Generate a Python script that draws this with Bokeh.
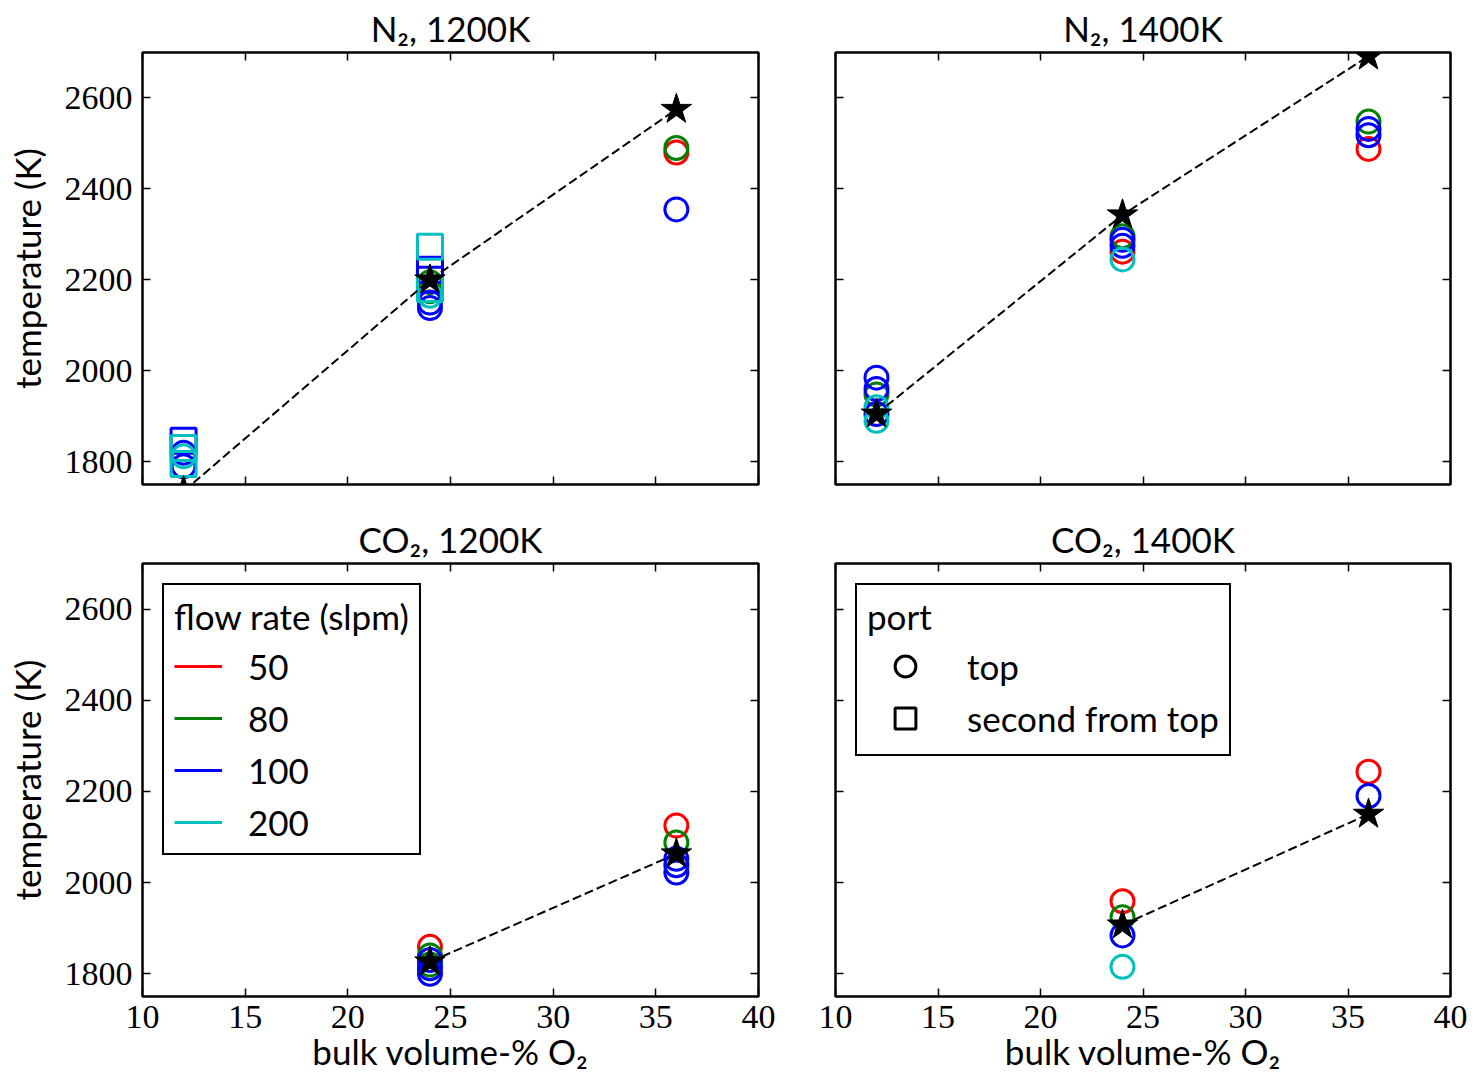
import numpy as np
from bokeh.plotting import figure
from bokeh.layouts import column, row
from bokeh.models import LinearAxis, FixedTicker, Range1d, Legend, LegendItem
from bokeh.embed import file_html
from bokeh.resources import INLINE

# ---------------- data ----------------
flow_rates = [50, 80, 100, 200]
flow_colors = ["#ff0000", "#008000", "#0000ff", "#00bfbf"]
port_names = ["top", "second from top"]
port_markers = ["circle", "square"]
x_ticks = [10, 15, 20, 25, 30, 35, 40]
y_ticks = [1800, 2000, 2200, 2400, 2600]
x_limits = (10, 40)
y_limits = (1750, 2700)
panel_titles = ["N₂, 1200K", "N₂, 1400K", "CO₂, 1200K", "CO₂, 1400K"]
x_label = "bulk volume-% O₂"
y_label = "temperature (K)"

# N2, 1200K
n2_1200_eq_o2 = [12, 24, 36]
n2_1200_eq_T = [1735, 2200, 2575]
n2_1200_o2 = [12, 12, 12, 12, 12, 12,
              24, 24, 24, 24, 24, 24, 24, 24, 24,
              36, 36, 36]
n2_1200_T = [1846, 1830, 1795, 1820, 1812, 1790,
             2273, 2222, 2200, 2180, 2195, 2175, 2165, 2150, 2138,
             2480, 2490, 2355]
n2_1200_flow = [100, 200, 200, 100, 200, 100,
                200, 100, 100, 200, 80, 80, 200, 100, 100,
                50, 80, 100]
n2_1200_port = ["second from top", "second from top", "second from top", "top", "top", "top",
                "second from top", "second from top", "second from top", "second from top", "top", "top", "top", "top", "top",
                "top", "top", "top"]

# N2, 1400K
n2_1400_eq_o2 = [12, 24, 36]
n2_1400_eq_T = [1905, 2343, 2692]
n2_1400_o2 = [12, 12, 12, 12, 12, 12,
              24, 24, 24, 24, 24,
              36, 36, 36, 36]
n2_1400_T = [1985, 1960, 1905, 1948, 1920, 1890,
             2262, 2296, 2288, 2275, 2245,
             2488, 2548, 2532, 2518]
n2_1400_flow = [100, 100, 100, 80, 200, 200,
                50, 80, 100, 100, 200,
                50, 80, 100, 100]
n2_1400_port = ["top"] * 15

# CO2, 1200K
co2_1200_eq_o2 = [24, 36]
co2_1200_eq_T = [1826, 2063]
co2_1200_o2 = [24, 24, 24, 24, 24, 24,
               36, 36, 36, 36, 36]
co2_1200_T = [1859, 1840, 1820, 1830, 1812, 1800,
              2125, 2088, 2052, 2038, 2022]
co2_1200_flow = [50, 80, 80, 100, 100, 100,
                 50, 80, 100, 100, 100]
co2_1200_port = ["top"] * 11

# CO2, 1400K
co2_1400_eq_o2 = [24, 36]
co2_1400_eq_T = [1907, 2150]
co2_1400_o2 = [24, 24, 24, 24, 36, 36]
co2_1400_T = [1959, 1924, 1884, 1815, 2243, 2190]
co2_1400_flow = [50, 80, 100, 200, 50, 100]
co2_1400_port = ["top"] * 6

TICK_FONT = "Liberation Serif"
TEXT_FONT = "Lato"
TEXT_SIZE = "35px"


def style_axis(ax, ticks, show_labels, label=None, horizontal=True):
    ax.ticker = FixedTicker(ticks=ticks)
    ax.major_tick_in = 8
    ax.major_tick_out = 0
    ax.minor_tick_line_color = None
    ax.axis_line_color = None
    ax.major_tick_line_color = "black"
    ax.major_tick_line_width = 1.5
    if show_labels:
        ax.major_label_text_font = TICK_FONT
        ax.major_label_text_font_size = "34px"
        ax.major_label_text_color = "black"
        ax.major_label_standoff = 9 if horizontal else 10
    else:
        ax.major_label_overrides = {t: "" for t in ticks}
        ax.major_label_text_font_size = "0px"
        ax.major_label_standoff = 0
    if label is not None:
        ax.axis_label = label
        ax.axis_label_text_font = TEXT_FONT
        ax.axis_label_text_font_size = TEXT_SIZE
        ax.axis_label_text_font_style = "normal"
        ax.axis_label_text_color = "black"
        ax.axis_label_standoff = -1 if horizontal else 14


def make_panel(title, eq_x, eq_y, xs, ys, flows, ports, left_col, bottom_row):
    bl = 142 if left_col else 39
    br = 38 if left_col else 25
    bt = 52 if not bottom_row else 58
    bb = 21 if not bottom_row else 84
    fw = 616 if left_col else 615
    fh = 432 if not bottom_row else 433
    p = figure(width=bl + fw + br, height=bt + fh + bb,
               x_range=Range1d(*x_limits), y_range=Range1d(*y_limits),
               output_backend="svg", toolbar_location=None,
               min_border_left=bl, min_border_right=br,
               min_border_top=bt, min_border_bottom=bb,
               x_axis_type=None, y_axis_type=None)
    p.grid.visible = False
    p.outline_line_color = "black"
    p.outline_line_width = 2.5
    p.background_fill_color = "white"
    p.border_fill_color = "white"

    p.title.text = title
    p.title.align = "center"
    p.title.text_font = TEXT_FONT
    p.title.text_font_size = TEXT_SIZE
    p.title.text_font_style = "normal"
    p.title.text_color = "black"
    p.title.standoff = 7

    xb = LinearAxis()
    style_axis(xb, x_ticks, bottom_row, x_label if bottom_row else None, True)
    p.add_layout(xb, "below")
    xt = LinearAxis()
    style_axis(xt, x_ticks, False)
    p.add_layout(xt, "above")
    yl = LinearAxis()
    style_axis(yl, y_ticks, left_col, y_label if left_col else None, False)
    p.add_layout(yl, "left")
    yr = LinearAxis()
    style_axis(yr, y_ticks, False)
    p.add_layout(yr, "right")

    # measurements
    for fr, col in zip(flow_rates, flow_colors):
        for pn, mk in zip(port_names, port_markers):
            sx = [x for x, f, q in zip(xs, flows, ports) if f == fr and q == pn]
            sy = [y for y, f, q in zip(ys, flows, ports) if f == fr and q == pn]
            if not sx:
                continue
            p.scatter(sx, sy, marker=mk, size=23 if mk == "circle" else 25,
                      fill_color=None, line_color=col, line_width=3)

    # equilibrium line + stars
    p.line(eq_x, eq_y, line_color="black", line_width=2, line_dash="9 4")
    p.scatter(eq_x, eq_y, marker="star", size=32, fill_color="black",
              line_color="black", line_width=1)
    return p


p1 = make_panel(panel_titles[0], n2_1200_eq_o2, n2_1200_eq_T, n2_1200_o2, n2_1200_T,
                n2_1200_flow, n2_1200_port, True, False)
p2 = make_panel(panel_titles[1], n2_1400_eq_o2, n2_1400_eq_T, n2_1400_o2, n2_1400_T,
                n2_1400_flow, n2_1400_port, False, False)
p3 = make_panel(panel_titles[2], co2_1200_eq_o2, co2_1200_eq_T, co2_1200_o2, co2_1200_T,
                co2_1200_flow, co2_1200_port, True, True)
p4 = make_panel(panel_titles[3], co2_1400_eq_o2, co2_1400_eq_T, co2_1400_o2, co2_1400_T,
                co2_1400_flow, co2_1400_port, False, True)


def style_legend(leg):
    leg.location = "top_left"
    leg.margin = 20
    leg.border_line_color = "black"
    leg.border_line_alpha = 1.0
    leg.border_line_width = 2.5
    leg.background_fill_alpha = 1
    leg.padding = 10
    leg.title_text_font = TEXT_FONT
    leg.title_text_font_size = TEXT_SIZE
    leg.title_text_font_style = "normal"
    leg.title_text_color = "black"
    leg.title_standoff = 8
    leg.label_text_font = TEXT_FONT
    leg.label_text_font_size = TEXT_SIZE
    leg.label_text_color = "black"
    leg.label_height = 42
    leg.glyph_height = 42
    leg.spacing = 10


# placeholder (no-data) renderers used only as legend keys
nan_pt = np.array([np.nan])

# flow-rate legend (bottom-left)
flow_items = []
for fr, col in zip(flow_rates, flow_colors):
    r = p3.line(x=nan_pt, y=nan_pt, line_color=col, line_width=3)
    flow_items.append(LegendItem(label=str(fr), renderers=[r]))
leg3 = Legend(items=flow_items, title="flow rate (slpm)")
style_legend(leg3)
leg3.glyph_width = 48
leg3.label_standoff = 26
p3.add_layout(leg3)

# port legend (bottom-right)
port_items = []
for pn, mk in zip(port_names, port_markers):
    r = p4.scatter(x=nan_pt, y=nan_pt, marker=mk, size=23,
                   fill_color=None, line_color="black", line_width=3)
    port_items.append(LegendItem(label=pn, renderers=[r]))
leg4 = Legend(items=port_items, title="port")
style_legend(leg4)
leg4.glyph_width = 76
leg4.glyph_height = 52
leg4.label_height = 52
leg4.spacing = 0
leg4.title_standoff = 3
leg4.label_standoff = 24
p4.add_layout(leg4)

layout = column(row(p1, p2), row(p3, p4))
open("out.html", "w").write(file_html(layout, INLINE))
